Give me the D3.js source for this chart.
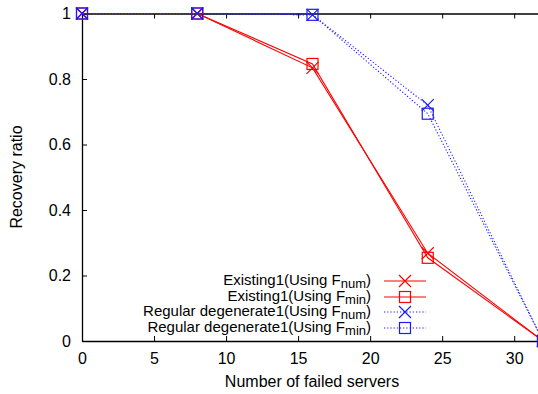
<!DOCTYPE html>
<html>
<head>
<meta charset="utf-8">
<script src="https://cdn.jsdelivr.net/npm/d3@7"></script>
<style>
body { margin: 0; background: #fff; }
text { font-family: "Liberation Sans", Arial, sans-serif; }
</style>
</head>
<body>
<svg id="canvas" width="538" height="394"></svg>
<script>
var failed = [0, 8, 16, 24, 32];
var existingNum = [1, 1, 0.834, 0.268, 0];
var existingMin = [1, 1, 0.846, 0.254, 0];
var regularNum = [1, 1, 0.996, 0.72, 0];
var regularMin = [1, 1, 0.996, 0.694, 0];
var xTicks = [0, 5, 10, 15, 20, 25, 30];
var yTicks = [0, 0.2, 0.4, 0.6, 0.8, 1];

var series = [
	{name: "Existing1(Using F", sub: "num", vals: existingNum, color: "#ff0000", dash: null, mark: "x"},
	{name: "Existing1(Using F", sub: "min", vals: existingMin, color: "#ff0000", dash: null, mark: "sq"},
	{name: "Regular degenerate1(Using F", sub: "num", vals: regularNum, color: "#1a1aff", dash: "1.2,2", mark: "x"},
	{name: "Regular degenerate1(Using F", sub: "min", vals: regularMin, color: "#1a1aff", dash: "1.2,2", mark: "sq"}
];

var svg = d3.select("#canvas");
var plotLeft = 82, plotRight = 543, plotTop = 13.5, plotBottom = 341;

var xScale = d3.scaleLinear().domain([0, 32]).range([plotLeft, plotRight]);
var yScale = d3.scaleLinear().domain([0, 1]).range([plotBottom, plotTop]);

var xAxis = d3.axisBottom(xScale).tickValues(xTicks).tickSizeInner(-5).tickSizeOuter(0).tickPadding(12);
var yAxis = d3.axisLeft(yScale).tickValues(yTicks).tickSizeInner(-5).tickSizeOuter(0).tickPadding(11)
	.tickFormat(d3.format("~g"));

svg.append("g")
	.attr("transform", "translate(0," + plotBottom + ")")
	.call(xAxis);
svg.append("g")
	.attr("transform", "translate(" + plotLeft + ",0)")
	.call(yAxis);
// top mirror axis
svg.append("g")
	.attr("transform", "translate(0," + plotTop + ")")
	.call(d3.axisTop(xScale).tickValues(xTicks).tickSizeInner(-5).tickSizeOuter(0).tickFormat(""));

svg.selectAll(".domain").attr("stroke", "#000").attr("stroke-width", 1.3);
svg.selectAll(".tick line").attr("stroke", "#000");
svg.selectAll(".tick text").attr("font-size", 16).attr("fill", "#000")
	.attr("font-family", "Liberation Sans, Arial, sans-serif");

var line = d3.line()
	.x(function(d, i) {return xScale(failed[i]);})
	.y(function(d) {return yScale(d);});

function drawMark(g, kind, cx, cy, color) {
	if (kind === "x") {
		g.append("path")
			.attr("d", "M" + (cx - 6) + "," + (cy - 6) + "L" + (cx + 6) + "," + (cy + 6) +
				"M" + (cx - 6) + "," + (cy + 6) + "L" + (cx + 6) + "," + (cy - 6))
			.attr("stroke", color).attr("stroke-width", 1.2).attr("fill", "none");
	} else {
		g.append("rect")
			.attr("x", cx - 5.5).attr("y", cy - 5.5)
			.attr("width", 11).attr("height", 11)
			.attr("stroke", color).attr("stroke-width", 1.2).attr("fill", "none");
	}
}

series.forEach(function(s) {
	svg.append("path")
		.datum(s.vals)
		.attr("d", line)
		.attr("fill", "none")
		.attr("stroke", s.color)
		.attr("stroke-width", 1.1)
		.attr("stroke-dasharray", s.dash);
	var g = svg.append("g");
	s.vals.forEach(function(v, i) {
		drawMark(g, s.mark, xScale(failed[i]), yScale(v), s.color);
	});
});

// legend
var legendY = [281, 297, 312, 328];
series.forEach(function(s, i) {
	var y = legendY[i];
	var t = svg.append("text")
		.attr("x", 371).attr("y", y + 4)
		.attr("text-anchor", "end")
		.attr("font-size", 15)
		.attr("fill", "#000");
	t.append("tspan").text(s.name);
	t.append("tspan").attr("dy", 3).attr("font-size", 13).text(s.sub);
	t.append("tspan").attr("dy", -3).text(")");
	svg.append("line")
		.attr("x1", 384).attr("x2", 426)
		.attr("y1", y).attr("y2", y)
		.attr("stroke", s.color).attr("stroke-width", 1.1)
		.attr("stroke-dasharray", s.dash);
	drawMark(svg.append("g"), s.mark, 405, y, s.color);
});

svg.append("text")
	.attr("x", 312).attr("y", 387)
	.attr("text-anchor", "middle")
	.attr("font-size", 16)
	.text("Number of failed servers");

svg.append("text")
	.attr("transform", "translate(22,177) rotate(-90)")
	.attr("text-anchor", "middle")
	.attr("font-size", 16)
	.text("Recovery ratio");
</script>
</body>
</html>
